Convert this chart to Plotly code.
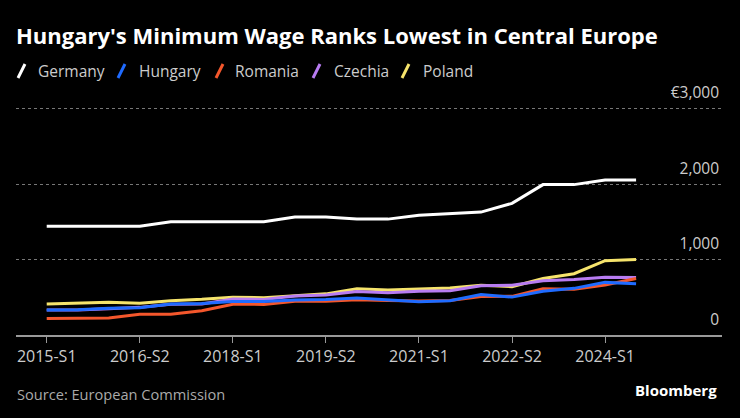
import plotly.graph_objects as go

periods = ["2015-S1","2015-S2","2016-S1","2016-S2","2017-S1","2017-S2","2018-S1","2018-S2",
           "2019-S1","2019-S2","2020-S1","2020-S2","2021-S1","2021-S2","2022-S1","2022-S2",
           "2023-S1","2023-S2","2024-S1","2024-S2"]
tick_labels = ["2015-S1","2016-S2","2018-S1","2019-S2","2021-S1","2022-S2","2024-S1"]

germany = [1440,1440,1440,1440,1500,1500,1500,1500,1562,1562,1535,1535,1585,1602,1628,1744,1992,1992,2054,2054]
hungary = [332,335,353,360,412,418,445,445,464,470,490,462,442,455,537,502,580,618,697,678]
romania = [218,218,225,275,275,320,408,405,446,446,466,458,450,458,510,512,612,606,663,748]
czechia = [330,330,348,366,407,412,478,470,517,530,575,560,578,585,652,660,717,735,766,762]
poland  = [410,418,435,422,455,472,500,495,520,545,612,595,610,622,658,640,748,812,985,1000]

y_ticks = [0,1000,2000,3000]
y_tick_text = ["0","1,000","2,000","€3,000"]

names = ["Germany","Hungary","Romania","Czechia","Poland"]
values = [germany, hungary, romania, czechia, poland]
colors = ["#ffffff","#1f6bff","#f4572c","#b87cf2","#f6e46c"]

W, H = 740, 418
L, R, B = 16, 722, 335
Y_TOP = 3550
PX_PER_UNIT = (335 - 108.5) / 3000
T = B - Y_TOP * PX_PER_UNIT

fig = go.Figure()
for n, v, c in reversed(list(zip(names, values, colors))):
    fig.add_trace(go.Scatter(x=periods, y=v, name=n, mode="lines",
                             line=dict(color=c, width=3), showlegend=False))

def px(x):
    return (x - L) / (R - L)
def py(y):
    return (B - y) / (B - T)

shapes = []
annotations = []
leg_slash_x = [18, 118, 216, 313, 402]
leg_text_x = [36, 137, 233, 332, 421]
for sx, tx, n, c in zip(leg_slash_x, leg_text_x, names, colors):
    shapes.append(dict(type="line", xref="paper", yref="paper",
                       x0=px(sx), y0=py(78), x1=px(sx + 7), y1=py(64),
                       line=dict(color=c, width=3)))
    annotations.append(dict(text=n, xref="paper", yref="paper", x=px(tx), y=py(71),
                            xanchor="left", yanchor="middle", showarrow=False,
                            font=dict(size=15.5, color="#cccccc", family="Open Sans")))

annotations.append(dict(text="<b>Hungary's Minimum Wage Ranks Lowest in Central Europe</b>",
                        xref="paper", yref="paper", x=px(14), y=py(35), xanchor="left",
                        yanchor="middle", showarrow=False,
                        font=dict(size=22, color="#ffffff", family="Open Sans")))
annotations.append(dict(text="Source: European Commission", xref="paper", yref="paper",
                        x=px(15), y=py(394), xanchor="left", yanchor="middle", showarrow=False,
                        font=dict(size=14.6, color="#aaaaaa", family="Open Sans")))
annotations.append(dict(text="<b>Bloomberg</b>", xref="paper", yref="paper",
                        x=px(719), y=py(390), xanchor="right", yanchor="middle", showarrow=False,
                        font=dict(size=15, color="#ffffff", family="Open Sans")))

fig.update_layout(
    width=W, height=H,
    margin=dict(l=L, r=W - R, t=T, b=H - B, pad=0),
    paper_bgcolor="#000000", plot_bgcolor="#000000",
    shapes=shapes, annotations=annotations,
    showlegend=False,
    xaxis=dict(type="category", range=[-0.99, 21.77], tickvals=tick_labels, ticktext=tick_labels,
               showgrid=False, showline=True, linecolor="#999999", linewidth=1.5,
               ticks="outside", ticklen=6, tickcolor="#999999", tickwidth=1,
               tickfont=dict(size=16, color="#cccccc", family="Open Sans"), zeroline=False),
    yaxis=dict(range=[0, Y_TOP], side="right", tickvals=y_ticks, ticktext=y_tick_text,
               ticklabelposition="inside top", ticklabelshift=-5, ticklabelstandoff=0,
               showgrid=True, gridcolor="#777777",
               griddash="dot", gridwidth=1, zeroline=False, showline=False, ticks="",
               tickfont=dict(size=15.5, color="#cccccc", family="Open Sans")),
)

fig.write_html("out.html", post_script="document.body.style.margin='0';",
               config={"displayModeBar": False})
